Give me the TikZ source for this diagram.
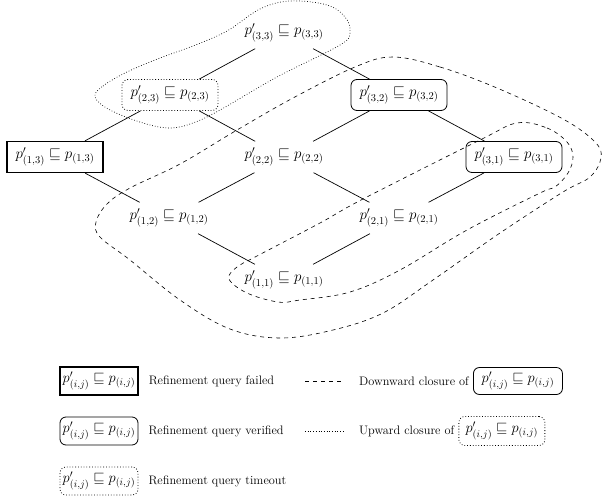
\documentclass[tikz,border=0pt]{standalone}
\usepackage{fix-cm}
\usepackage{amsmath, amssymb}
\usetikzlibrary{positioning}

\tikzset{
  lattice/.style={minimum width=96pt, minimum height=31pt, inner sep=0pt, font=\fontsize{15}{18}\selectfont},
  failed/.style={draw, line width=1.3pt},
  verified/.style={draw, rounded corners=6pt, line width=0.8pt},
  timeout/.style={draw, rounded corners=6pt, dotted, line width=0.8pt},
  legbox/.style={minimum width=78pt, minimum height=28pt, inner sep=0pt, font=\fontsize{14.5}{17}\selectfont},
  legtext/.style={inner sep=0pt, anchor=west, font=\fontsize{12.3}{15}\selectfont},
  closure/.style={dash pattern=on 4pt off 4pt, line width=0.6pt}
}

\begin{document}
\begin{tikzpicture}[x=1pt,y=-1pt]
  \useasboundingbox (0,0) rectangle (602,495);

  % closures
  \draw[dotted, line width=0.7pt] plot[smooth cycle, tension=0.6] coordinates {(95,97) (103,86) (127,72) (160,58) (193,46) (227,31) (260,9) (290,1) (327,5) (345,17) (350,32) (340,45) (277,77) (220,110) (193,123) (170,128) (143,123) (110,110)};
  \draw[closure] plot[smooth cycle, tension=0.6] coordinates {(393,57) (440,67) (497,88) (563,119) (595,142) (601,158) (590,177) (563,192) (500,233) (433,280) (383,313) (333,330) (280,338) (230,329) (180,300) (130,260) (100,237) (96,222) (107,204) (130,188) (180,164) (237,130) (293,98) (355,67)};
  \draw[closure] plot[smooth cycle, tension=0.6] coordinates {(517,123) (547,128) (567,142) (573,157) (568,173) (555,187) (540,193) (467,230) (400,270) (350,292) (300,300) (278,302) (247,293) (229,279) (237,267) (257,256) (320,223) (363,199) (480,140)};

  % lattice
  \node[lattice] (q33) at (284,33) {$p'_{(3,3)} \sqsubseteq p_{(3,3)}$};
  \node[lattice, timeout] (q23) at (170,95) {$p'_{(2,3)} \sqsubseteq p_{(2,3)}$};
  \node[lattice, verified] (q32) at (399,95) {$p'_{(3,2)} \sqsubseteq p_{(3,2)}$};
  \node[lattice, failed] (q13) at (55,157) {$p'_{(1,3)} \sqsubseteq p_{(1,3)}$};
  \node[lattice] (q22) at (284,157) {$p'_{(2,2)} \sqsubseteq p_{(2,2)}$};
  \node[lattice, verified] (q31) at (514,157) {$p'_{(3,1)} \sqsubseteq p_{(3,1)}$};
  \node[lattice] (q12) at (169,218) {$p'_{(1,2)} \sqsubseteq p_{(1,2)}$};
  \node[lattice] (q21) at (399,218) {$p'_{(2,1)} \sqsubseteq p_{(2,1)}$};
  \node[lattice] (q11) at (284,280) {$p'_{(1,1)} \sqsubseteq p_{(1,1)}$};

  \foreach \a/\b in {q33/q23, q33/q32, q23/q13, q23/q22, q32/q22, q32/q31,
                     q13/q12, q22/q12, q22/q21, q31/q21, q12/q11, q21/q11}
    \draw[line width=0.7pt] (\a) -- (\b);

  % legend
  \node[legbox, failed] (lf) at (99,381) {$p'_{(i,j)} \sqsubseteq p_{(i,j)}$};
  \node[legtext, right=10pt of lf] (tf) {Refinement query failed};
  \node[legbox, verified] (lv) at (99,431) {$p'_{(i,j)} \sqsubseteq p_{(i,j)}$};
  \node[legtext, right=10pt of lv] (tv) {Refinement query verified};
  \node[legbox, timeout] (lt) at (99,481) {$p'_{(i,j)} \sqsubseteq p_{(i,j)}$};
  \node[legtext, right=10pt of lt] (tt) {Refinement query timeout};

  \coordinate (d1) at (305,381);
  \coordinate (d2) at (343,381);
  \draw[closure] (d1) -- (d2);
  \node[legtext] (td) at (359,381) {Downward closure of};
  \node[legbox, verified, minimum width=89pt, minimum height=27pt, right=4pt of td] (ld) {$p'_{(i,j)} \sqsubseteq p_{(i,j)}$};

  \coordinate (u1) at (305,431);
  \coordinate (u2) at (343,431);
  \draw[dotted, line width=0.7pt] (u1) -- (u2);
  \node[legtext] (tu) at (359,431) {Upward closure of};
  \node[legbox, timeout, minimum width=86pt, minimum height=29pt, right=4pt of tu] (lu) {$p'_{(i,j)} \sqsubseteq p_{(i,j)}$};
\end{tikzpicture}
\end{document}
